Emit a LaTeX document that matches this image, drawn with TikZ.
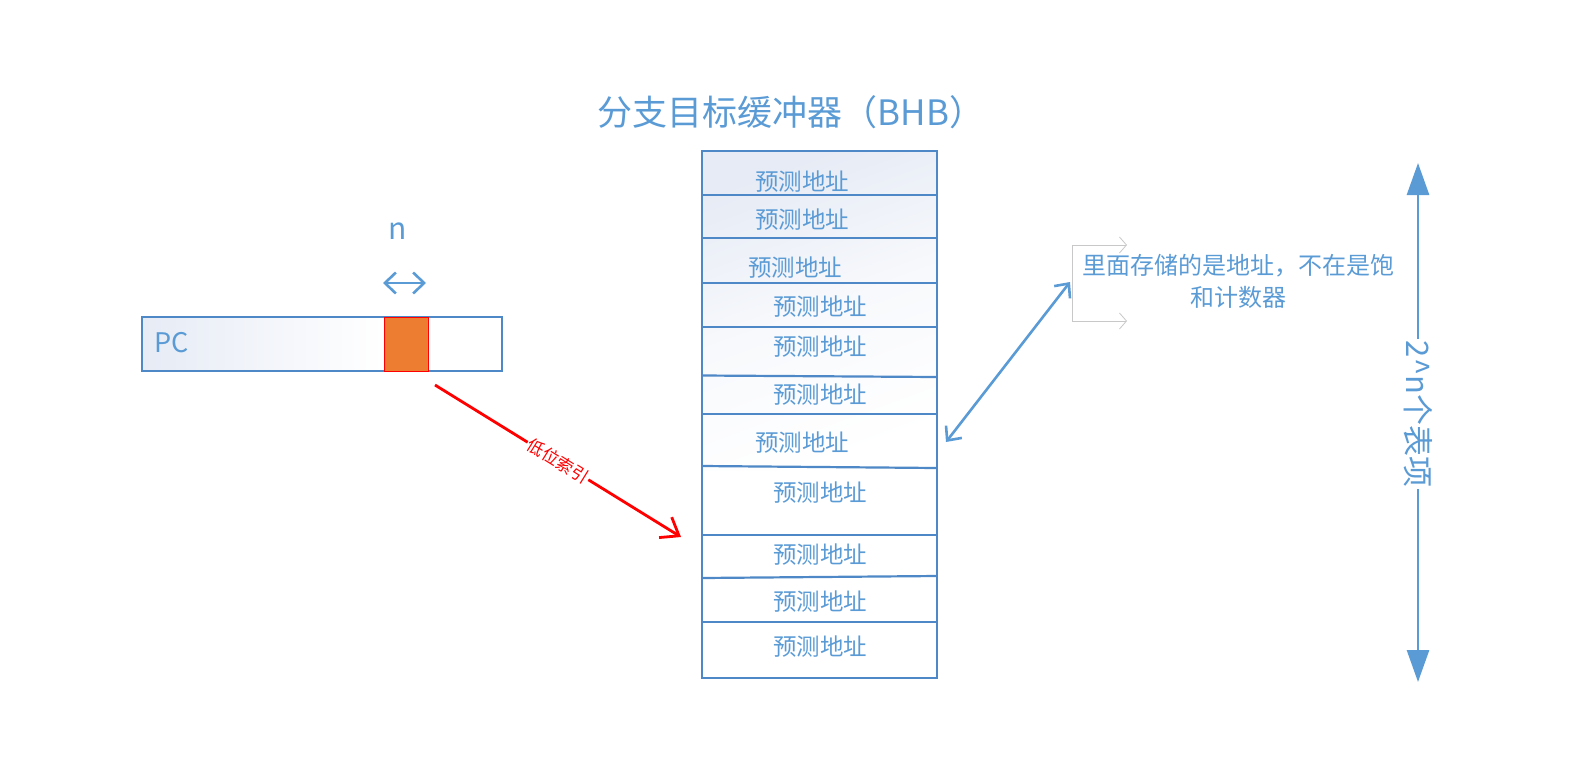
\documentclass[tikz,border=0pt]{standalone}
\usepackage{fontspec}
\setmainfont{Noto Sans CJK SC}
\usetikzlibrary{arrows.meta}
\definecolor{tblue}{HTML}{5B9BD5}
\definecolor{bord}{HTML}{4F88C6}
\definecolor{tint}{HTML}{E6EBF5}
\definecolor{orng}{HTML}{ED7D31}
\definecolor{greyl}{HTML}{C8C8C8}
\tikzset{
  rowtxt/.style={text=tblue, font=\fontsize{23.5}{26}\selectfont, inner sep=0pt},
  tline/.style={draw=bord, line width=2.2pt},
  barb/.style={-{Straight Barb[length=11pt,width=20pt]}},
}
\begin{document}
\begin{tikzpicture}[x=1pt,y=-1pt]
\useasboundingbox (0,0) rectangle (1573,763);
% title
\node[text=tblue, font=\fontsize{35}{40}\selectfont, inner sep=0pt] (title) at (791,112) {分支目标缓冲器（BHB）};
% table background
\shade[top color=tint, bottom color=white, middle color=white!70!tint, shading angle=20]
  (702,151) rectangle (937,470);
% table lines
\draw[tline] (702,151) rectangle (937,678);
\draw[tline] (702,195) -- (937,195);
\draw[tline] (702,238) -- (937,238);
\draw[tline] (702,283) -- (937,283);
\draw[tline] (702,327) -- (937,327);
\draw[tline] (702,375.5) -- (937,377);
\draw[tline] (702,414) -- (937,414);
\draw[tline] (702,466) -- (937,468);
\draw[tline] (702,535) -- (937,535);
\draw[tline] (702,578) -- (937,576);
\draw[tline] (702,622) -- (937,622);
% row texts
\node[rowtxt] (r1) at (802,182) {预测地址};
\node[rowtxt] (r2) at (802,220) {预测地址};
\node[rowtxt] (r3) at (795,268) {预测地址};
\node[rowtxt] (r4) at (820,307) {预测地址};
\node[rowtxt] (r5) at (820,347) {预测地址};
\node[rowtxt] (r6) at (820,395) {预测地址};
\node[rowtxt] (r7) at (802,443) {预测地址};
\node[rowtxt] (r8) at (820,493) {预测地址};
\node[rowtxt] (r9) at (820,555) {预测地址};
\node[rowtxt] (r10) at (820,602) {预测地址};
\node[rowtxt] (r11) at (820,647) {预测地址};
% PC register
\shade[left color=tint, right color=white] (142,317) rectangle (384,371);
\draw[tline] (142,317) rectangle (502,371);
\node[draw=red, line width=1pt, fill=orng, minimum width=44pt, minimum height=54pt, inner sep=0pt, anchor=north west] (idx) at (384,317) {};
\node[text=tblue, font=\fontsize{27}{30}\selectfont, anchor=west, inner sep=0pt] (pc) at (154,343) {PC};
\node[text=tblue, font=\fontsize{30}{34}\selectfont, inner sep=0pt] (n) at (398,231) {n};
\coordinate (nl) at (383,283);
\coordinate (nr) at (426,283);
\draw[draw=tblue, line width=2.6pt, {Straight Barb[length=11pt,width=21pt]}-{Straight Barb[length=11pt,width=21pt]}] (nl) -- (nr);
% red index arrow
\coordinate (rs) at (435,385);
\coordinate (re) at (681,537);
\draw[red, line width=2.8pt, -{Straight Barb[length=16pt,width=24pt]}] (rs) -- (re)
  node[pos=0.5, sloped, fill=white, inner sep=1.5pt, text=red, font=\fontsize{17}{19}\selectfont] (lbl) {低位索引};
% blue double arrow to callout
\coordinate (ba) at (946,442);
\coordinate (bb) at (1070,282);
\draw[tblue, line width=2.6pt, {Straight Barb[length=11pt,width=20pt]}-{Straight Barb[length=11pt,width=20pt]}] (ba) -- (bb);
% grey bracket
\coordinate (g1) at (1072,245);
\coordinate (g2) at (1072,321);
\coordinate (g1e) at (1127,245);
\coordinate (g2e) at (1127,321);
\draw[greyl, line width=0.8pt] (g1) -- (g2);
\draw[greyl, line width=0.8pt, -{Straight Barb[length=7pt,width=16pt]}] (g1) -- (g1e);
\draw[greyl, line width=0.8pt, -{Straight Barb[length=7pt,width=16pt]}] (g2) -- (g2e);
\node[text=tblue, font=\fontsize{24}{32}\selectfont, align=center, inner sep=0pt] (note) at (1238,281) {里面存储的是地址，不在是饱\\和计数器};
% vertical span arrow
\coordinate (vt) at (1418,163);
\coordinate (vb) at (1418,682);
\draw[tblue, line width=2.8pt, {Triangle[length=32pt,width=22pt]}-{Triangle[length=32pt,width=22pt]}] (vt) -- (vb);
\node[fill=white, rotate=-90, text=tblue, font=\fontsize{31}{34}\selectfont, inner xsep=2pt, inner ysep=0pt] (cnt) at (1418,414) {2\textasciicircum n个表项};
\end{tikzpicture}
\end{document}
